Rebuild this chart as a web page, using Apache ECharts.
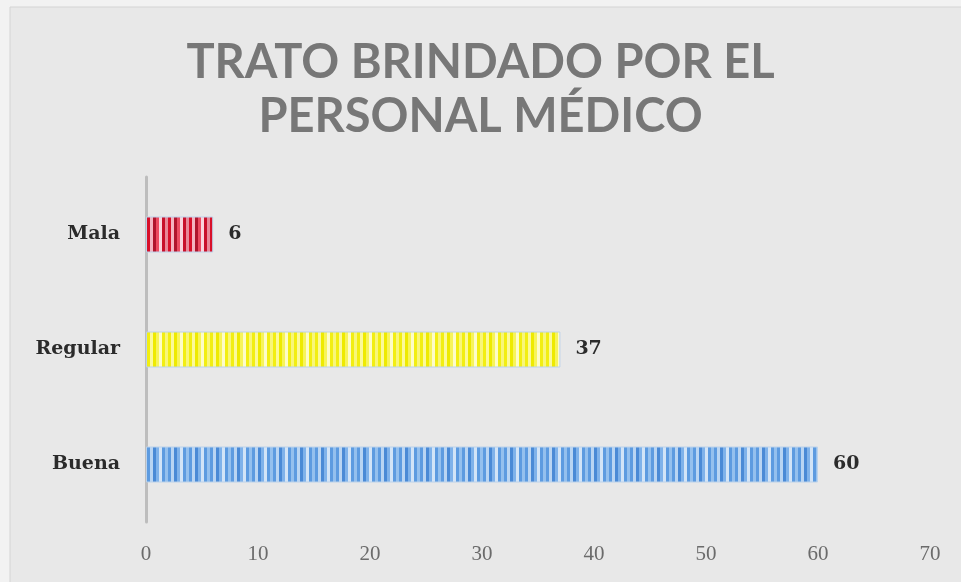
<!DOCTYPE html>
<html lang="es">
    <head>
        <meta charset="utf-8" />
        <title>Trato brindado por el personal médico</title>
        <style type="text/css">
            html, body { margin: 0; padding: 0; background: #f2f2f2; }
            #chart { width: 961px; height: 582px; }
        </style>
    </head>
    <body>
        <div id="chart"></div>

        <script src="https://cdn.jsdelivr.net/npm/echarts@6/dist/echarts.min.js"></script>
        <script>
            // data
            const categories = ["Buena", "Regular", "Mala"];
            const values = [60, 37, 6];
            const xTicks = [0, 10, 20, 30, 40, 50, 60, 70];

            // striped fill, one colour set per bar
            const stripes = (colors) => {
                let c = document.createElement("canvas");
                c.width = colors.length * 3;
                c.height = 4;
                let ctx = c.getContext("2d");
                colors.forEach((col, i) => {
                    ctx.fillStyle = col;
                    ctx.fillRect(i * 3, 0, 3, 4);
                });
                return { image: c, repeat: "repeat" };
            };

            const fills = [
                stripes(["#5d9be0", "#b9d5f3", "#4a8ad6", "#7fb2ea", "#d2e4f7", "#5d9be0", "#94c0ee"]),
                stripes(["#f2ee12", "#fbf99a", "#eeea00", "#f7f45a", "#fdfcc8", "#f2ee12", "#f8f67a"]),
                stripes(["#d8102a", "#f4b4c0", "#b0142c", "#ec4a60", "#f9d4dc", "#c8102a", "#e88898"])
            ];

            let chart = echarts.init(document.querySelector("#chart"), null, { width: 961, height: 582 });

            const option = {
                backgroundColor: "#f2f2f2",
                graphic: [{
                    type: "rect",
                    z: -1,
                    shape: { x: 10, y: 7, width: 960, height: 580 },
                    style: { fill: "#e8e8e8", stroke: "#d4d4d4", lineWidth: 1 }
                }],
                title: {
                    text: "TRATO BRINDADO POR EL\nPERSONAL MÉDICO",
                    left: "center",
                    top: 31,
                    textStyle: {
                        fontFamily: "Lato",
                        fontWeight: "bold",
                        fontSize: 47,
                        lineHeight: 54,
                        color: "#777777"
                    }
                },
                grid: { left: 146, right: 31, top: 177, bottom: 60 },
                xAxis: {
                    type: "value",
                    min: xTicks[0],
                    max: xTicks[xTicks.length - 1],
                    interval: 10,
                    axisLine: { show: false },
                    axisTick: { show: false },
                    splitLine: { show: false },
                    axisLabel: {
                        margin: 22,
                        fontFamily: "Liberation Serif",
                        fontSize: 21,
                        color: "#6b6b6b"
                    }
                },
                yAxis: {
                    type: "category",
                    data: categories,
                    axisLine: { show: true, lineStyle: { color: "#bdbdbd", width: 3 } },
                    axisTick: { show: false },
                    axisLabel: {
                        margin: 26,
                        fontFamily: "DejaVu Serif",
                        fontWeight: "bold",
                        fontSize: 19,
                        color: "#2b2b2b"
                    }
                },
                series: [{
                    type: "bar",
                    barWidth: 36,
                    data: values.map((v, i) => ({
                        value: v,
                        itemStyle: { color: fills[i], borderColor: "#bcd2ea", borderWidth: 1 }
                    })),
                    label: {
                        show: true,
                        position: "right",
                        distance: 15,
                        fontFamily: "DejaVu Serif",
                        fontWeight: "bold",
                        fontSize: 19,
                        color: "#2b2b2b"
                    }
                }]
            };

            chart.setOption(option);
        </script>
    </body>
</html>
